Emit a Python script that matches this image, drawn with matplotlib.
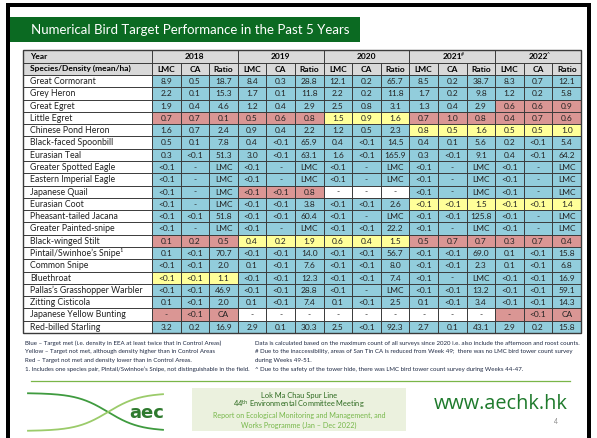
import matplotlib
matplotlib.use('Agg')
import matplotlib.pyplot as plt
from matplotlib.patches import Rectangle
import numpy as np

# ---------------- data ----------------
species = ["Great Cormorant", "Grey Heron", "Great Egret", "Little Egret",
           "Chinese Pond Heron", "Black-faced Spoonbill", "Eurasian Teal",
           "Greater Spotted Eagle", "Eastern Imperial Eagle", "Japanese Quail",
           "Eurasian Coot", "Pheasant-tailed Jacana", "Greater Painted-snipe",
           "Black-winged Stilt", "Pintail/Swinhoe\u2019s Snipe\u00b9", "Common Snipe",
           "Bluethroat", "Pallas\u2019s Grasshopper Warbler", "Zitting Cisticola",
           "Japanese Yellow Bunting", "Red-billed Starling"]
years = ["2018", "2019", "2020", "2021", "2022"]
year_marks = ["", "", "", "#", "^"]
sub_cols = ["LMC", "CA", "Ratio"]

v2018 = [["8.9", "0.5", "18.7"], ["2.2", "0.1", "15.3"], ["1.9", "0.4", "4.6"],
         ["0.7", "0.7", "0.1"], ["1.6", "0.7", "2.4"], ["0.5", "0.1", "7.8"],
         ["0.3", "<0.1", "51.3"], ["<0.1", "-", "LMC"], ["<0.1", "-", "LMC"],
         ["<0.1", "-", "LMC"], ["<0.1", "-", "LMC"], ["<0.1", "<0.1", "51.8"],
         ["<0.1", "-", "LMC"], ["0.1", "0.2", "0.5"], ["0.1", "<0.1", "70.7"],
         ["<0.1", "<0.1", "2.0"], ["<0.1", "<0.1", "1.1"], ["<0.1", "<0.1", "46.9"],
         ["0.1", "<0.1", "2.0"], ["-", "<0.1", "CA"], ["3.2", "0.2", "16.9"]]
v2019 = [["8.4", "0.3", "28.8"], ["1.7", "0.1", "11.8"], ["1.2", "0.4", "2.9"],
         ["0.5", "0.6", "0.8"], ["0.9", "0.4", "2.2"], ["0.4", "<0.1", "65.9"],
         ["3.0", "<0.1", "63.1"], ["<0.1", "-", "LMC"], ["<0.1", "-", "LMC"],
         ["<0.1", "<0.1", "0.8"], ["<0.1", "<0.1", "3.8"], ["<0.1", "<0.1", "60.4"],
         ["<0.1", "-", "LMC"], ["0.4", "0.2", "1.9"], ["<0.1", "<0.1", "14.0"],
         ["0.1", "<0.1", "7.6"], ["<0.1", "<0.1", "12.3"], ["<0.1", "<0.1", "28.8"],
         ["0.1", "<0.1", "7.4"], ["-", "-", "-"], ["2.9", "0.1", "30.3"]]
v2020 = [["12.1", "0.2", "65.7"], ["2.2", "0.2", "11.8"], ["2.5", "0.8", "3.1"],
         ["1.5", "0.9", "1.6"], ["1.2", "0.5", "2.3"], ["0.4", "<0.1", "14.5"],
         ["1.6", "<0.1", "165.9"], ["<0.1", "-", "LMC"], ["<0.1", "-", "LMC"],
         ["-", "-", "-"], ["<0.1", "<0.1", "2.6"], ["<0.1", "-", "LMC"],
         ["<0.1", "<0.1", "22.2"], ["0.6", "0.4", "1.5"], ["<0.1", "<0.1", "56.7"],
         ["<0.1", "<0.1", "8.0"], ["<0.1", "<0.1", "7.4"], ["<0.1", "-", "LMC"],
         ["0.1", "<0.1", "2.5"], ["-", "-", "-"], ["2.5", "<0.1", "92.3"]]
v2021 = [["8.5", "0.2", "38.7"], ["1.7", "0.2", "9.8"], ["1.3", "0.4", "2.9"],
         ["0.7", "1.0", "0.8"], ["0.8", "0.5", "1.6"], ["0.4", "0.1", "5.6"],
         ["0.3", "<0.1", "9.1"], ["<0.1", "-", "LMC"], ["<0.1", "-", "LMC"],
         ["<0.1", "-", "LMC"], ["<0.1", "<0.1", "1.5"], ["<0.1", "<0.1", "125.8"],
         ["<0.1", "-", "LMC"], ["0.5", "0.7", "0.7"], ["<0.1", "<0.1", "69.0"],
         ["<0.1", "<0.1", "2.3"], ["<0.1", "-", "LMC"], ["<0.1", "<0.1", "13.2"],
         ["0.1", "<0.1", "3.4"], ["-", "-", "-"], ["2.7", "0.1", "43.1"]]
v2022 = [["8.3", "0.7", "12.1"], ["1.2", "0.2", "5.8"], ["0.6", "0.6", "0.9"],
         ["0.4", "0.7", "0.6"], ["0.5", "0.5", "1.0"], ["0.2", "<0.1", "5.4"],
         ["0.4", "<0.1", "64.2"], ["<0.1", "-", "LMC"], ["<0.1", "-", "LMC"],
         ["<0.1", "-", "LMC"], ["<0.1", "<0.1", "1.4"], ["<0.1", "-", "LMC"],
         ["<0.1", "-", "LMC"], ["0.3", "0.7", "0.4"], ["0.1", "<0.1", "15.8"],
         ["0.1", "<0.1", "6.8"], ["<0.1", "<0.1", "16.9"], ["<0.1", "<0.1", "59.1"],
         ["<0.1", "<0.1", "14.3"], ["-", "<0.1", "CA"], ["2.9", "0.2", "15.8"]]

# performance class per species: B = target met, Y = not met but higher, R = lower, W = no data
c2018 = "BBBRBBBBBBBBBRBBYBBRB"
c2019 = "BBBRBBBBBRBBBYBBBBBWB"
c2020 = "BBBYBBBBBWBBBYBBBBBWB"
c2021 = "BBBRYBBBBBYBBRBBBBBWB"
c2022 = "BBRRYBBBBBYBBRBBBBBRB"

title = "Numerical Bird Target Performance in the Past 5 Years"
notes_left = ["Blue \u2013 Target met (i.e. density in EEA at least twice that in Control Areas)",
              "Yellow \u2013 Target not met, although density higher than in Control Areas",
              "Red \u2013 Target not met and density lower than in Control Areas.",
              "1. Includes one species pair, Pintail/Swinhoe\u2019s Snipe, not distinguishable in the field."]
notes_right = ["Data is calculated based on the maximum count of all surveys since 2020 i.e. also include the afternoon and roost counts.",
               "# Due to the inaccessibility, areas of San Tin CA is reduced from Week 49;  there was no LMC bird tower count survey",
               "during Weeks 49-51.",
               "^ Due to the safety of the tower hide, there was LMC bird tower count survey during Weeks 44-47."]

values = [v2018, v2019, v2020, v2021, v2022]
classes = [c2018, c2019, c2020, c2021, c2022]

# ---------------- styling ----------------
FILL = {"B": "#92CDDC", "Y": "#FFFF99", "R": "#DA9694", "W": "#FFFFFF"}
HEAD = "#D9D9D9"
LINE = "#3A3A3A"
FONT = "Lato"

W, H = 597, 438
fig = plt.figure(figsize=(W / 100, H / 100), dpi=100)
ax = fig.add_axes([0, 0, 1, 1])
ax.set_xlim(0, W)
ax.set_ylim(H, 0)
ax.axis('off')
renderer = fig.canvas.get_renderer()


def fit_text(x, y, s, width, fs=8, **kw):
    t = ax.text(x, y, s, fontsize=fs, **kw)
    bb = t.get_window_extent(renderer=renderer)
    t.set_fontsize(fs * width / bb.width)
    return t


# slide frame
ax.add_patch(Rectangle((6, 3), 585, 4, color="black", lw=0))
ax.add_patch(Rectangle((6, 3), 4, H, color="black", lw=0))
ax.add_patch(Rectangle((587, 3), 4, H, color="black", lw=0))

# title bar
ax.add_patch(Rectangle((10, 17), 350, 25, color="#0B6A22", lw=0))
fit_text(31, 30.5, title, 318, fs=10, color="white", va="center", ha="left", family=FONT)

# table geometry
x0, xs = 23, 152
colw = (581 - xs) / 15
y_h1, y_h2, y_d = 50, 62.5, 75
rowh = (333 - y_d) / len(species)
y_end = y_d + rowh * len(species)
fs_cell = 6.0

# header backgrounds
ax.add_patch(Rectangle((x0, y_h1), 581 - x0, y_d - y_h1, color=HEAD, lw=0))
ax.text(30, (y_h1 + y_h2) / 2, "Year", fontsize=fs_cell, fontweight="bold",
        va="center", ha="left", family=FONT)
ax.text(30, (y_h2 + y_d) / 2, "Species/Density (mean/ha)", fontsize=fs_cell,
        fontweight="bold", va="center", ha="left", family=FONT)
for yi, (yr, mk) in enumerate(zip(years, year_marks)):
    cx = xs + colw * (3 * yi + 1.5)
    ax.text(cx, (y_h1 + y_h2) / 2 + 0.3, yr, fontsize=fs_cell, fontweight="bold",
            va="center", ha="center", family=FONT)
    if mk:
        ax.text(cx + 8.5, (y_h1 + y_h2) / 2 - 1.3, mk, fontsize=3.8,
                va="center", ha="left", family=FONT)
    for k, sc in enumerate(sub_cols):
        ax.text(xs + colw * (3 * yi + k + 0.5), (y_h2 + y_d) / 2 + 0.3, sc,
                fontsize=fs_cell, fontweight="bold", va="center", ha="center", family=FONT)

# data cells
for r, sp in enumerate(species):
    yt = y_d + r * rowh
    ax.text(30, yt + rowh / 2 + 0.3, sp, fontsize=6.3, va="center", ha="left",
            family=FONT, color="#222222")
    for yi in range(5):
        cls = classes[yi][r]
        for k in range(3):
            xl = xs + colw * (3 * yi + k)
            ax.add_patch(Rectangle((xl, yt), colw, rowh, color=FILL[cls], lw=0))
            ax.text(xl + colw / 2, yt + rowh / 2 + 0.3, values[yi][r][k],
                    fontsize=fs_cell, va="center", ha="center", family=FONT, color="#222222")

# grid lines
lw = 0.7
for r in range(len(species) + 2):
    yy = y_h2 + r * rowh if r > 0 else y_h2
    if r == 0:
        yy = y_h2
    else:
        yy = y_d + (r - 1) * rowh
    ax.plot([x0, 581], [yy, yy], color=LINE, lw=lw, solid_capstyle="butt")
for c in range(16):
    xx = xs + c * colw
    top = y_h1 if c % 3 == 0 else y_h2
    ax.plot([xx, xx], [top, y_end], color=LINE, lw=lw)
ax.add_patch(Rectangle((x0, y_h1), 581 - x0, y_end - y_h1, fill=False,
                       ec=LINE, lw=1.0))

# notes
note_y = [343.5, 352, 360.5, 369]
fit_text(25, note_y[3], notes_left[3], 224, fs=4, va="center", ha="left",
         family=FONT, color="#1F2A44")
fsn = ax.texts[-1].get_fontsize()
for yy, s in zip(note_y[:3], notes_left[:3]):
    ax.text(25, yy, s, fontsize=fsn, va="center", ha="left", family=FONT, color="#1F2A44")
for yy, s in zip(note_y, notes_right):
    ax.text(255, yy, s, fontsize=fsn, va="center", ha="left", family=FONT, color="#1F2A44")

# separator line
ax.plot([31, 570], [381, 381], color="#7AB648", lw=0.9)

# logo
xx = np.linspace(28, 163, 200)
s = 1 / (1 + np.exp(-(xx - 108) / 16))
ax.plot(xx, 393 + 38 * s, color="#3F9B3F", lw=1.3)
ax.plot(xx, 431 - 38 * s, color="#9BCB6A", lw=1.3)
ax.text(147, 413, "aec", fontsize=13, fontweight="bold", color="#2E7A2E",
        va="center", ha="center", family="DejaVu Sans")

# center box
ax.add_patch(Rectangle((192, 388), 214, 43, color="#EBF1DE", lw=0))
fit_text(299, 395.5, "Lok Ma Chau Spur Line", 77, fs=5, va="center", ha="center",
         family=FONT, color="#2D6A1F")
fit_text(299, 405, "44$^{\\mathrm{th}}$ Environmental Committee Meeting", 132, fs=5,
         va="center", ha="center", family=FONT, color="#2D6A1F")
fit_text(299, 415.5, "Report on Ecological Monitoring and Management, and", 174, fs=5,
         va="center", ha="center", family=FONT, color="#77B84A")
fit_text(299, 425, "Works Programme (Jan \u2013 Dec 2022)", 117, fs=5,
         va="center", ha="center", family=FONT, color="#77B84A")

# url and page number
fit_text(501, 404, "www.aechk.hk", 134, fs=18, va="center", ha="center",
         family="Open Sans", color="#1E7A2C")
ax.text(556, 422, "4", fontsize=5, va="center", ha="center", family=FONT, color="#8C8C8C")

fig.savefig("out.png", dpi=100)
